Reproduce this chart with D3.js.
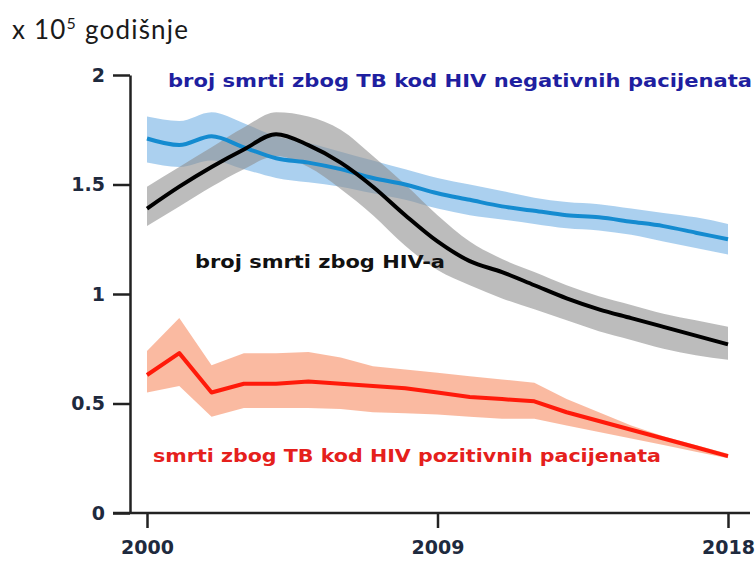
<!DOCTYPE html>
<meta charset="utf-8">
<script src="https://d3js.org/d3.v7.min.js"></script>
<style>
  body { margin: 0; background: #fff; }
</style>
<div id="chart"></div>
<script>
  // years on the x axis
  var years = d3.range(2000, 2019);

  // TB deaths among HIV negative (blue)
  var hivNeg      = [1.71, 1.68, 1.72, 1.67, 1.62, 1.60, 1.57, 1.53, 1.50, 1.46, 1.43, 1.40, 1.38, 1.36, 1.35, 1.33, 1.31, 1.28, 1.25];
  var hivNegHigh  = [1.81, 1.79, 1.83, 1.78, 1.72, 1.69, 1.65, 1.61, 1.57, 1.53, 1.50, 1.47, 1.44, 1.42, 1.41, 1.39, 1.37, 1.35, 1.32];
  var hivNegLow   = [1.60, 1.58, 1.61, 1.57, 1.53, 1.51, 1.49, 1.46, 1.43, 1.39, 1.36, 1.34, 1.32, 1.30, 1.29, 1.27, 1.24, 1.21, 1.18];

  // HIV deaths (black)
  var hiv         = [1.39, 1.49, 1.58, 1.66, 1.73, 1.68, 1.60, 1.49, 1.36, 1.24, 1.15, 1.10, 1.04, 0.98, 0.93, 0.89, 0.85, 0.81, 0.77];
  var hivHigh     = [1.49, 1.58, 1.67, 1.76, 1.83, 1.81, 1.75, 1.63, 1.50, 1.36, 1.24, 1.16, 1.10, 1.04, 0.99, 0.95, 0.91, 0.88, 0.85];
  var hivLow      = [1.31, 1.40, 1.49, 1.57, 1.63, 1.58, 1.48, 1.36, 1.22, 1.11, 1.04, 0.98, 0.93, 0.88, 0.83, 0.79, 0.75, 0.72, 0.70];

  // TB deaths among HIV positive (red)
  var hivPos      = [0.63, 0.73, 0.55, 0.59, 0.59, 0.60, 0.59, 0.58, 0.57, 0.55, 0.53, 0.52, 0.51, 0.46, 0.42, 0.38, 0.34, 0.30, 0.26];
  var hivPosHigh  = [0.74, 0.89, 0.675, 0.73, 0.73, 0.735, 0.71, 0.67, 0.655, 0.64, 0.625, 0.61, 0.595, 0.52, 0.46, 0.40, 0.35, 0.31, 0.27];
  var hivPosLow   = [0.55, 0.58, 0.44, 0.48, 0.48, 0.48, 0.475, 0.46, 0.455, 0.45, 0.44, 0.43, 0.43, 0.40, 0.37, 0.34, 0.31, 0.28, 0.25];

  var yTicks = [0, 0.5, 1, 1.5, 2];
  var yTickLabels = ["0", "0.5", "1", "1.5", "2"];
  var xTicks = [2000, 2009, 2018];

  var width = 756, height = 561;

  var svg = d3.select("#chart")
    .append("svg")
      .attr("width", width)
      .attr("height", height);

  var x = d3.scaleLinear().domain([2000, 2018]).range([147, 728]);
  var y = d3.scaleLinear().domain([0, 2]).range([513, 75]);

  // unit label
  var unit = svg.append("text")
    .attr("x", 12)
    .attr("y", 39)
    .attr("textLength", 176)
    .style("font-family", "Lato, 'Open Sans', sans-serif")
    .style("font-size", "26px")
    .style("fill", "#1a1a1a");
  unit.append("tspan").text("x 10");
  unit.append("tspan").attr("dy", -10).style("font-size", "16px").text("5");
  unit.append("tspan").attr("dy", 10).text(" godišnje");

  function series(mid, hi, lo) {
    return years.map(function(d, i) { return {year: d, v: mid[i], hi: hi[i], lo: lo[i]}; });
  }

  var data = [
    {rows: series(hivNeg, hivNegHigh, hivNegLow), band: "#9cc8ec", bandOp: 0.85, line: "#148bd0", curve: d3.curveMonotoneX},
    {rows: series(hiv, hivHigh, hivLow), band: "#909090", bandOp: 0.6, line: "#000000", curve: d3.curveMonotoneX},
    {rows: series(hivPos, hivPosHigh, hivPosLow), band: "#f9a98a", bandOp: 0.8, line: "#ff1a0a", curve: d3.curveLinear}
  ];

  // bands first
  data.forEach(function(s) {
    var area = d3.area()
      .curve(s.curve)
      .x(function(d) { return x(d.year); })
      .y0(function(d) { return y(d.lo); })
      .y1(function(d) { return y(d.hi); });
    svg.append("path")
      .datum(s.rows)
      .attr("d", area)
      .attr("fill", s.band)
      .attr("fill-opacity", s.bandOp);
  });

  // then the lines
  data.forEach(function(s) {
    var line = d3.line()
      .curve(s.curve)
      .x(function(d) { return x(d.year); })
      .y(function(d) { return y(d.v); });
    svg.append("path")
      .datum(s.rows)
      .attr("d", line)
      .attr("fill", "none")
      .attr("stroke", s.line)
      .attr("stroke-width", 4)
      .attr("stroke-linejoin", "round");
  });

  // Y axis
  var yAxis = svg.append("g")
    .attr("transform", "translate(130,0)")
    .call(d3.axisLeft(y)
      .tickValues(yTicks)
      .tickSize(17)
      .tickSizeOuter(0)
      .tickPadding(8)
      .tickFormat(function(d, i) { return yTickLabels[i]; }));

  // X axis
  var xAxis = svg.append("g")
    .attr("transform", "translate(0,513)")
    .call(d3.axisBottom(x)
      .tickValues(xTicks)
      .tickSize(15)
      .tickPadding(13)
      .tickFormat(d3.format("d")));
  xAxis.select(".domain").remove();
  xAxis.append("line")
    .attr("x1", 113).attr("x2", x(2018) + 22)
    .attr("stroke", "#222").attr("stroke-width", 2.5);

  svg.selectAll(".tick line").attr("stroke", "#222").attr("stroke-width", 2.5);
  yAxis.select(".domain").attr("stroke", "#222").attr("stroke-width", 2.5);
  svg.selectAll(".tick text")
    .style("font-family", "'DejaVu Sans', Verdana, sans-serif")
    .style("font-weight", "bold")
    .style("font-size", "19px")
    .style("fill", "#1e2a3e");

  // series labels
  var labels = [
    {text: "broj smrti zbog TB kod HIV negativnih pacijenata", x: 168, y: 87, w: 584, color: "#1f1fa0"},
    {text: "broj smrti zbog HIV-a", x: 195, y: 268, w: 250, color: "#111111"},
    {text: "smrti zbog TB kod HIV pozitivnih pacijenata", x: 153, y: 462, w: 508, color: "#e5201c"}
  ];
  svg.selectAll(".lbl")
    .data(labels)
    .enter()
    .append("text")
      .attr("class", "lbl")
      .attr("x", function(d) { return d.x; })
      .attr("y", function(d) { return d.y; })
      .attr("textLength", function(d) { return d.w; })
      .attr("lengthAdjust", "spacingAndGlyphs")
      .style("font-family", "'DejaVu Sans', Verdana, sans-serif")
      .style("font-weight", "bold")
      .style("font-size", "18px")
      .style("fill", function(d) { return d.color; })
      .text(function(d) { return d.text; });
</script>
